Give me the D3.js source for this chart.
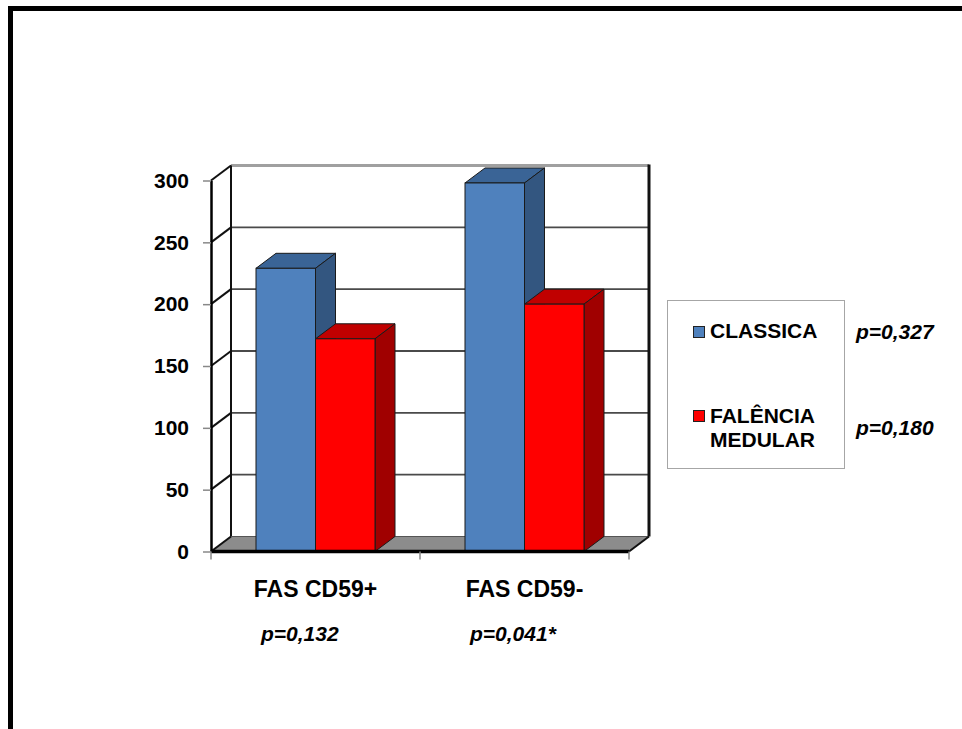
<!DOCTYPE html>
<html>
<head>
<meta charset="utf-8">
<script src="https://cdn.jsdelivr.net/npm/d3@7"></script>
<style>
  html, body { margin: 0; padding: 0; background: #fff; }
  svg { display: block; font-family: "Liberation Sans", Arial, sans-serif; font-weight: bold; }
</style>
</head>
<body>
<svg id="chart" width="962" height="729"></svg>
<script>
// Categories, series and values
const categories = ["FAS CD59+", "FAS CD59-"];
const categoryPValues = ["p=0,132", "p=0,041*"];
const seriesNames = ["CLASSICA", "FALÊNCIA MEDULAR"];
const seriesPValues = ["p=0,327", "p=0,180"];
const classicaValues = [229, 298];
const falenciaValues = [172, 200];
const yTicks = [0, 50, 100, 150, 200, 250, 300];

// Face colours per series: front, top, side
const palette = [
  { front: "#4F81BD", top: "#3A6496", side: "#335680" },
  { front: "#FF0000", top: "#C00000", side: "#A00000" }
];

const svg = d3.select("#chart");

// Outer frame (top and left rules)
svg.append("rect").attr("x", 8).attr("y", 6).attr("width", 954).attr("height", 5).attr("fill", "#000");
svg.append("rect").attr("x", 8).attr("y", 6).attr("width", 5).attr("height", 723).attr("fill", "#000");

// 3D projection offset for depth
const DX = 20, DY = -15;

const y = d3.scaleLinear().domain([0, 300]).range([551.5, 180.5]);
const x = d3.scaleBand().domain(categories).range([211, 629]);
const xInner = d3.scaleBand().domain(seriesNames).range([45, x.bandwidth() - 45]);

const plotLeft = 211, plotRight = 629;
const g = svg.append("g");

// Back wall gridlines
g.selectAll("line.grid").data(yTicks.filter(t => t > 0)).join("line")
  .attr("class", "grid")
  .attr("x1", plotLeft + DX).attr("x2", plotRight + DX)
  .attr("y1", d => y(d) + DY).attr("y2", d => y(d) + DY)
  .attr("stroke", d => d === 300 ? "#a0a0a0" : "#4a4a4a")
  .attr("stroke-width", d => d === 300 ? 3 : 1.8);

// Side wall: diagonal connectors from the front axis to the back wall
g.selectAll("line.diag").data(yTicks.filter(t => t > 0)).join("line")
  .attr("class", "diag")
  .attr("x1", plotLeft).attr("x2", plotLeft + DX)
  .attr("y1", d => y(d)).attr("y2", d => y(d) + DY)
  .attr("stroke", "#111").attr("stroke-width", 2);

// Back wall vertical edges
g.append("line").attr("x1", plotLeft + DX).attr("x2", plotLeft + DX)
  .attr("y1", y(300) + DY).attr("y2", y(0) + DY).attr("stroke", "#111").attr("stroke-width", 2);
g.append("line").attr("x1", plotRight + DX).attr("x2", plotRight + DX)
  .attr("y1", y(300) + DY - 1).attr("y2", y(0) + DY).attr("stroke", "#111").attr("stroke-width", 3);

// Floor
const floorPts = [[plotLeft, y(0)], [plotRight, y(0)], [plotRight + DX, y(0) + DY], [plotLeft + DX, y(0) + DY]];
g.append("polygon").attr("points", floorPts.map(p => p.join(",")).join(" "))
  .attr("fill", "#8c8c8c").attr("stroke", "#555").attr("stroke-width", 1);
g.append("line").attr("x1", plotLeft).attr("x2", plotLeft + DX)
  .attr("y1", y(0)).attr("y2", y(0) + DY).attr("stroke", "#111").attr("stroke-width", 2);
g.append("line").attr("x1", plotRight).attr("x2", plotRight + DX)
  .attr("y1", y(0)).attr("y2", y(0) + DY).attr("stroke", "#111").attr("stroke-width", 2);

// Bars
const barData = [];
categories.forEach((c, i) => {
  barData.push({ cat: c, s: 0, v: classicaValues[i] });
  barData.push({ cat: c, s: 1, v: falenciaValues[i] });
});

const bars = g.selectAll("g.bar").data(barData).join("g").attr("class", "bar");
bars.each(function (d) {
  const x0 = x(d.cat) + xInner(seriesNames[d.s]);
  const x1 = x0 + xInner.bandwidth();
  const yt = y(d.v), yb = y(0);
  const col = palette[d.s];
  const sel = d3.select(this);
  const poly = pts => pts.map(p => p.join(",")).join(" ");
  sel.append("polygon")
    .attr("points", poly([[x0, yt], [x1, yt], [x1 + DX, yt + DY], [x0 + DX, yt + DY]]))
    .attr("fill", col.top).attr("stroke", "#1a1a1a").attr("stroke-width", 1).attr("stroke-linejoin", "round");
  sel.append("polygon")
    .attr("points", poly([[x1, yt], [x1 + DX, yt + DY], [x1 + DX, yb + DY], [x1, yb]]))
    .attr("fill", col.side).attr("stroke", "#1a1a1a").attr("stroke-width", 1).attr("stroke-linejoin", "round");
  sel.append("rect")
    .attr("x", x0).attr("y", yt).attr("width", x1 - x0).attr("height", yb - yt)
    .attr("fill", col.front).attr("stroke", "#1a1a1a").attr("stroke-width", 1);
});

// Front floor edge
g.append("line").attr("x1", plotLeft).attr("x2", plotRight)
  .attr("y1", y(0)).attr("y2", y(0)).attr("stroke", "#000").attr("stroke-width", 3.5);

// Value axis
const yAxis = d3.axisLeft(y).tickValues(yTicks).tickSize(8).tickSizeOuter(0).tickPadding(14);
const yAxisG = g.append("g").attr("transform", `translate(${plotLeft},0)`).call(yAxis);
yAxisG.select(".domain").attr("stroke", "#000").attr("stroke-width", 2.5);
yAxisG.selectAll(".tick line").attr("stroke", "#888").attr("stroke-width", 1.5);
yAxisG.selectAll(".tick text")
  .attr("font-family", "'Liberation Sans', Arial, sans-serif")
  .attr("font-weight", "bold").attr("font-size", 21).attr("fill", "#000");

// Category axis: boundary ticks and centred labels
const boundaries = [x(categories[0])].concat(categories.map(c => x(c) + x.bandwidth()));
g.selectAll("line.xtick").data(boundaries).join("line")
  .attr("class", "xtick")
  .attr("x1", d => d).attr("x2", d => d)
  .attr("y1", y(0)).attr("y2", y(0) + 8)
  .attr("stroke", "#888").attr("stroke-width", 1.5);

g.selectAll("text.xlabel").data(categories).join("text")
  .attr("class", "xlabel")
  .attr("x", d => x(d) + x.bandwidth() / 2).attr("y", 597)
  .attr("text-anchor", "middle").attr("font-size", 23).attr("fill", "#000")
  .text(d => d);

g.selectAll("text.xp").data(categoryPValues).join("text")
  .attr("class", "xp")
  .attr("x", (d, i) => x(categories[i]) + 50).attr("y", 641)
  .attr("font-size", 21).attr("font-style", "italic").attr("fill", "#000")
  .text(d => d);

// Legend
const legend = svg.append("g");
legend.append("rect").attr("x", 667.5).attr("y", 300.5).attr("width", 177).attr("height", 168)
  .attr("fill", "#fff").attr("stroke", "#a6a6a6").attr("stroke-width", 1);

const legendRows = [
  { lines: [seriesNames[0]], y: 338, swatchY: 326 },
  { lines: ["FALÊNCIA", "MEDULAR"], y: 423, swatchY: 410 }
];
legendRows.forEach((row, i) => {
  legend.append("rect").attr("x", 693.5).attr("y", row.swatchY + 0.5).attr("width", 11).attr("height", 11)
    .attr("fill", palette[i].front).attr("stroke", "#222").attr("stroke-width", 1);
  const t = legend.append("text").attr("x", 710).attr("y", row.y).attr("font-size", 21).attr("fill", "#000");
  row.lines.forEach((ln, k) => {
    t.append("tspan").attr("x", 710).attr("dy", k === 0 ? 0 : 24).text(ln);
  });
});

// Series p-values beside the legend
legend.selectAll("text.sp").data(seriesPValues).join("text")
  .attr("class", "sp")
  .attr("x", 856).attr("y", (d, i) => [339, 435][i])
  .attr("font-size", 21).attr("font-style", "italic").attr("fill", "#000")
  .text(d => d);
</script>
</body>
</html>
